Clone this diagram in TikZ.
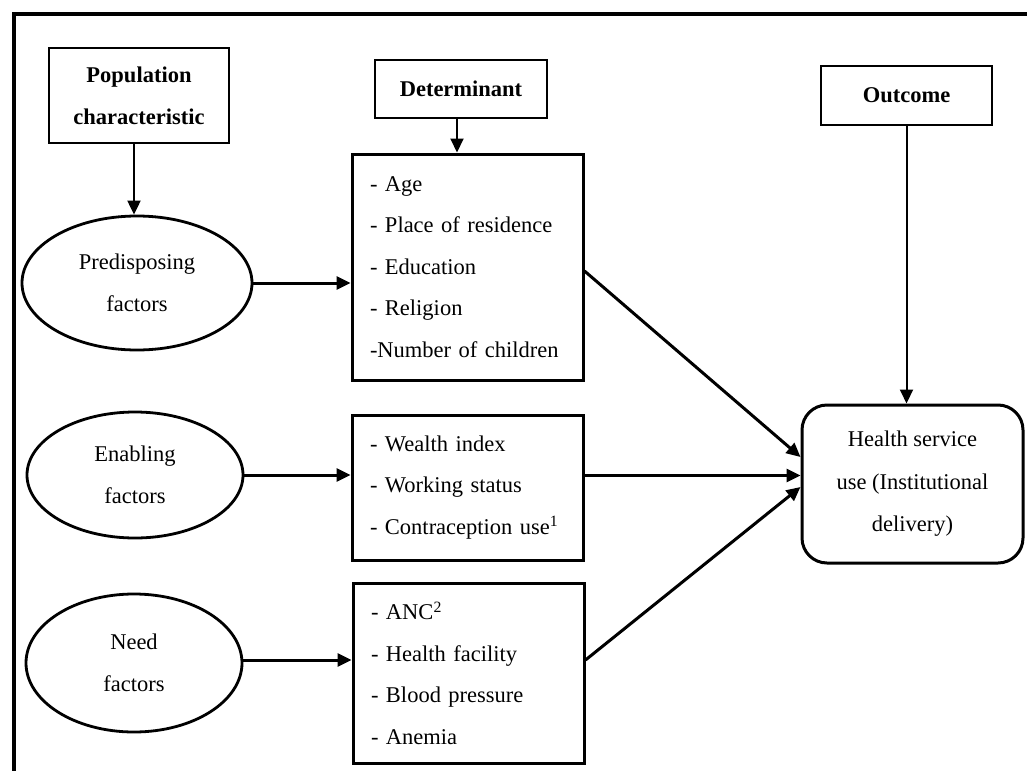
\documentclass[tikz,border=0pt]{standalone}
\usepackage{fontspec}
\setmainfont{Liberation Serif}
\usetikzlibrary{arrows.meta,shapes.geometric}

\begin{document}
\begin{tikzpicture}[x=1pt,y=-1pt,
    every node/.style={font=\fontsize{22.5}{41.5}\selectfont},
    title/.style={draw,line width=2pt,font=\fontsize{22.5}{42}\selectfont\bfseries,align=center,inner sep=0pt},
    factor/.style={draw,ellipse,line width=2.8pt,font=\fontsize{22.5}{42}\selectfont,align=center,inner sep=0pt},
    list/.style={draw,line width=3pt,align=left,text width=195pt,inner xsep=18pt,inner ysep=0pt},
    arr/.style={line width=3pt,-{Triangle[length=14pt,width=13pt]}}]
    \useasboundingbox (0,0) rectangle (1027,771);

    % Frame (top and left only)
    \draw[line width=4.5pt] (1027,14) -- (14,14) -- (14,771);

    % Column titles
    \node[title,minimum width=180pt,minimum height=95pt] (pop) at (139,95.5) {Population\\characteristic};
    \node[title,minimum width=172pt,minimum height=58pt] (det) at (461,89) {Determinant};
    \node[title,minimum width=171pt,minimum height=59pt] (outc) at (906.5,95.5) {Outcome};

    % Factors
    \node[factor,minimum width=230pt,minimum height=134pt] (pred) at (137,283) {Predisposing\\factors};
    \node[factor,minimum width=216pt,minimum height=126pt] (enab) at (135,475) {Enabling\\factors};
    \node[factor,minimum width=216pt,minimum height=138pt] (need) at (134,663) {Need\\factors};

    % Determinant lists
    \node[list,minimum height=226pt] (boxA) at (467.5,267) {- Age\\- Place of residence\\- Education\\- Religion\\-Number of children};
    \node[list,minimum height=145pt] (boxB) at (467.5,487.5) {- Wealth index\\- Working status\\- Contraception use\textsuperscript{1}};
    \node[list,minimum height=180pt] (boxC) at (468.5,673) {- ANC\textsuperscript{2}\\- Health facility\\- Blood pressure\\- Anemia};

    % Outcome
    \node[draw,line width=3pt,rounded corners=25pt,align=center,font=\fontsize{22.5}{42.5}\selectfont,
          minimum width=221pt,minimum height=158pt,inner sep=0pt] (use) at (912.5,484) {Health service\\use (Institutional\\delivery)};

    % Arrows
    \draw[arr,line width=2pt] ([xshift=-5pt]pop.south) -- ([xshift=-5pt]pop.south |- pred.north);
    \draw[arr,line width=2pt] ([xshift=-4pt]det.south) -- ([xshift=-4pt]det.south |- boxA.north);
    \draw[arr,line width=2pt] (outc.south) -- (outc.south |- use.north);
    \draw[arr] (pred.east) -- (pred.east -| boxA.west);
    \draw[arr] (enab.east) -- (enab.east -| boxB.west);
    \draw[arr] ([yshift=3pt]need.east) -- ([yshift=3pt]need.east -| boxC.west);
    \draw[arr] ([yshift=-4pt]boxA.east) -- ([yshift=27pt]use.west);
    \draw[arr] ([yshift=12pt]boxB.east) -- ([yshift=12pt]boxB.east -| use.west);
    \draw[arr] ([yshift=13pt]boxC.east) -- ([yshift=-3pt]use.west);
\end{tikzpicture}
\end{document}
